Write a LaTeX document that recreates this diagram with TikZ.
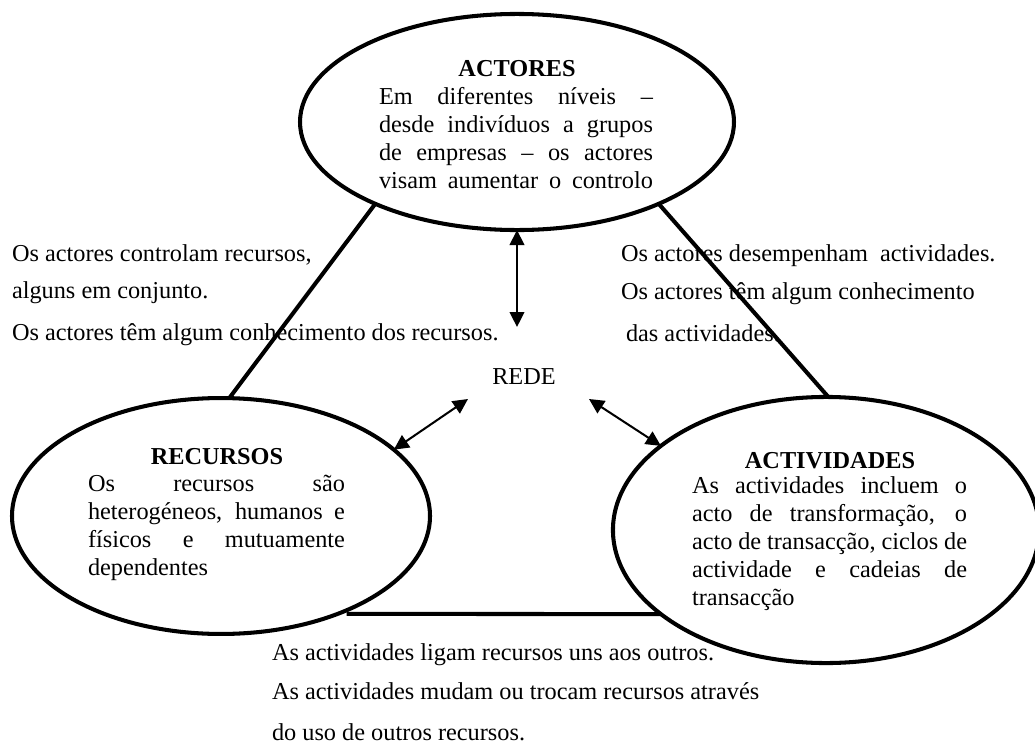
\documentclass[tikz,border=0pt]{standalone}
\usepackage{fontspec}
\setmainfont{Liberation Serif}
\usetikzlibrary{arrows.meta,shapes.geometric}
\begin{document}
\begin{tikzpicture}[x=0.4938pt,y=-0.4938pt,
  every node/.style={font=\fontsize{12}{13.8}\selectfont, inner sep=0pt, outer sep=0pt},
  bubble/.style={draw, line width=2pt, ellipse, inner sep=0pt},
  link/.style={line width=2pt},
  twoway/.style={line width=1pt,
    {Triangle[length=7.4pt,width=7.2pt]}-{Triangle[length=7.4pt,width=7.2pt]}},
  title/.style={font=\fontsize{12}{13.8}\selectfont\bfseries, anchor=base},
  body/.style={anchor=north west, align=justify},
  note/.style={anchor=base west}
]
\useasboundingbox (0,0) rectangle (1035,745);

% the three poles of the network
\node[bubble, minimum width=214.3pt, minimum height=106.7pt] (act) at (517,122) {};
\node[bubble, minimum width=206.4pt, minimum height=116.5pt] (rec) at (221,516) {};
\node[bubble, minimum width=210.4pt, minimum height=131.4pt] (ativ) at (826,530) {};

% sides of the triangle
\draw[link] (act.210) -- (rec.86);
\draw[link] (act.330) -- (ativ.89);
\draw[link] ([xshift=4.4pt]rec.320) -- (ativ.207);

% centre of the network
\node[anchor=base] (rede) at (524,384) {REDE};
\coordinate (upEnd) at (517,327);
\coordinate (leftEnd) at (468,399);
\coordinate (rightEnd) at (589,399);
\draw[twoway] (act.south) -- (upEnd);
\draw[twoway] (leftEnd) -- (rec.21);
\draw[twoway] (rightEnd) -- (ativ.153);

% texts inside the ellipses
\node[title] (actT) at (517,77) {ACTORES};
\node[body, text width=135.3pt] (actB) at (379,85.4)
  {\tolerance=10000\hyphenpenalty=10000\parfillskip=0pt\strut Em diferentes níveis –\linebreak
   desde indivíduos a grupos\linebreak de empresas – os actores\linebreak visam aumentar o controlo\par};

\node[title] (recT) at (217,464) {RECURSOS};
\node[body, text width=126.9pt] (recB) at (88,472.4)
  {\tolerance=10000\hyphenpenalty=10000\strut Os recursos são\linebreak
   heterogéneos, humanos e\linebreak físicos e mutuamente\linebreak dependentes};

\node[title] (ativT) at (830,468) {ACTIVIDADES};
\node[body, text width=135.8pt] (ativB) at (692,474.4)
  {\tolerance=10000\hyphenpenalty=10000\strut As actividades incluem o\linebreak
   acto de transformação, o\linebreak acto de transacção, ciclos de\linebreak
   actividade e cadeias de\linebreak transacção};

% notes along the sides
\node[note] (l1) at (12,261) {Os actores controlam recursos,};
\node[note] (l2) at (12,298) {alguns em conjunto.};
\node[note] (l3) at (12,340) {Os actores têm algum conhecimento dos recursos.};

\node[note] (r1) at (621,261) {Os actores desempenham~ actividades.};
\node[note] (r2) at (621,299) {Os actores têm algum conhecimento};
\node[note] (r3) at (626,341) {das actividades.};

\node[note] (b1) at (272,660) {As actividades ligam recursos uns aos outros.};
\node[note] (b2) at (272,699) {As actividades mudam ou trocam recursos através};
\node[note] (b3) at (272,740) {do uso de outros recursos.};
\end{tikzpicture}
\end{document}
